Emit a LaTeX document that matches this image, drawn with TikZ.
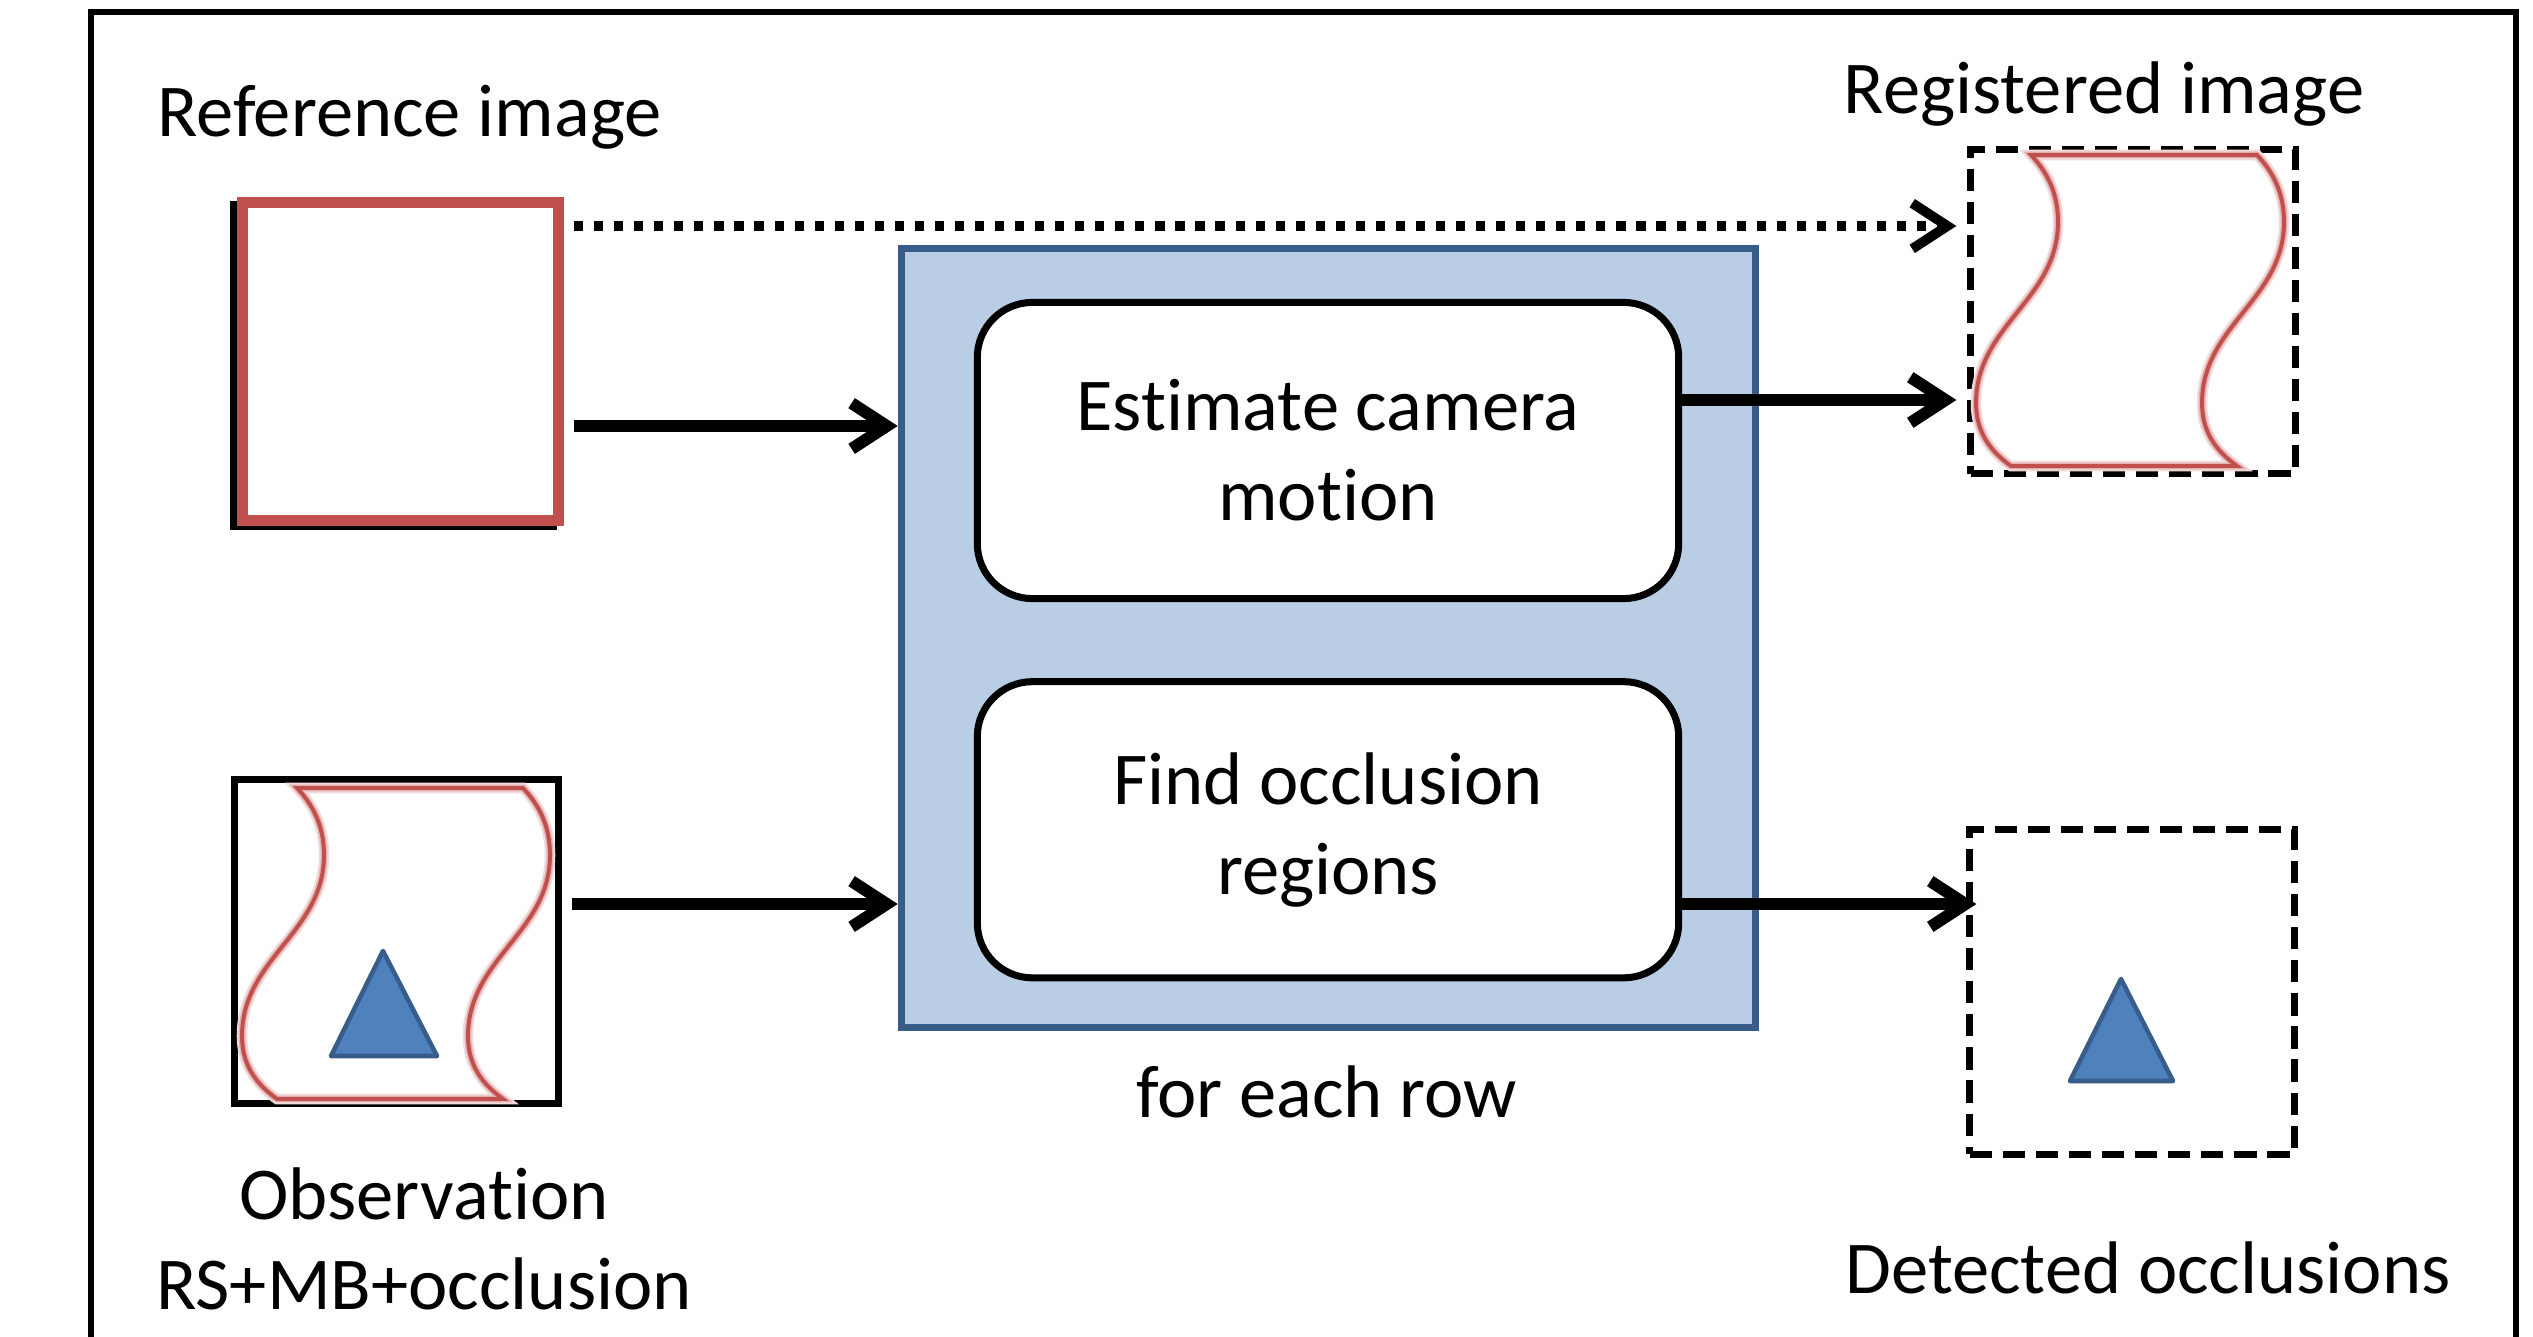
\documentclass[tikz,border=0pt]{standalone}
\usepackage{fontspec}
\setmainfont{Carlito}[Ligatures=NoCommon]
\usepackage{xcolor}
\usepackage{tikz}
\usetikzlibrary{arrows.meta, positioning, shadows}
\definecolor{refred}{HTML}{C0504D}
\definecolor{loopfill}{HTML}{B9CDE5}
\definecolor{loopdraw}{HTML}{385D8A}
\definecolor{occlfill}{HTML}{4F81BD}
\newcommand{\lblfont}{\fontsize{21.2}{25.6}\selectfont}
\tikzset{
    imgbox/.style={rectangle, minimum width=3.24cm, minimum height=3.24cm, draw=black, line width=2pt, fill=white},
    refbox/.style={imgbox, minimum width=3.16cm, minimum height=3.18cm, draw=refred, line width=3.1pt, general shadow={draw=black, fill=black, line width=3.1pt, shadow xshift=-0.07cm, shadow yshift=-0.04cm}},
    outbox/.style={imgbox, dash pattern=on 6.3pt off 3.1pt},
    loopbox/.style={rectangle, minimum width=8.54cm, minimum height=7.79cm, draw=loopdraw, fill=loopfill, line width=2pt},
    stepbox/.style={rectangle, rounded corners=0.55cm, minimum width=7.01cm, minimum height=2.96cm, text centered, align=center, draw=black, fill=white, line width=2pt, font=\lblfont},
    lbl/.style={inner sep=0pt, align=center, font=\lblfont},
    arrow/.style={line width=3.4pt, -{Straight Barb[length=10pt, width=13pt]}},
    dotarrow/.style={arrow, line width=2.8pt, dash pattern=on 2.6pt off 3.1pt},
    wave/.style={draw=refred, line width=1.1pt, preaction={draw=refred!20, line width=3pt}, preaction={draw=refred!45, line width=1.9pt}},
    occl/.style={fill=occlfill, draw=loopdraw, line width=1.3pt, line join=round},
    wavy/.pic={
        \draw[wave] (0,0) -- (226,0) .. controls (245,20) and (253,42) .. (253,67)
            .. controls (253,145) and (171,170) .. (171,248)
            .. controls (171,277) and (185,296) .. (206,311) -- (-20,311)
            .. controls (-41,296) and (-55,277) .. (-55,248)
            .. controls (-55,170) and (27,145) .. (27,67)
            .. controls (27,42) and (19,20) .. (0,0) -- cycle;
    }
}

\begin{document}
\begin{tikzpicture}[x=0.01cm, y=-0.01cm]
    \useasboundingbox (0,0) rectangle (2533,1336);
    \draw [line width=1.9pt] (91,1345) -- (91,12) -- (2516,12) -- (2516,1345);

    % per-row loop
    \node (loop) [loopbox] at (1328.5,638) {};
    \node (est) [stepbox] at (1328,450.5) {Estimate camera\\motion};
    \node (find) [stepbox, below=0.76cm of est] {Find occlusion\\regions};

    % images
    \node (ref) [refbox] at (400.5,361.5) {};
    \node (obs) [imgbox] at (396.5,941.5) {};
    \node (reg) [outbox] at (2133,311.5) {};
    \node (det) [outbox] at (2132,992) {};
    \pic at (297,788) {wavy};
    \pic at (2031,155) {wavy};
    \draw [occl] (383,951) -- (437,1056) -- (331,1056) -- cycle;
    \draw [occl] (2121,979) -- (2173,1081) -- (2070,1081) -- cycle;

    % labels
    \node (reflbl) [lbl, anchor=base] at (409.5,136) {Reference image};
    \node (reglbl) [lbl, anchor=base] at (2104,113) {Registered image};
    \node (obslbl) [lbl, anchor=north] at (424,1167) {Observation\\RS+MB+occlusion};
    \node (detlbl) [lbl, anchor=base] at (2148,1293) {Detected occlusions};
    \node (rowlbl) [lbl, anchor=base] at (1326.5,1117) {for each row};

    % connectors
    \draw [dotarrow, shorten <=0.1cm, shorten >=0.11cm] (ref.east |- 0,226) -- (reg.west |- 0,226);
    \draw [arrow, shorten <=0.1cm] (ref.east |- 0,426) -- (loop.west |- 0,426);
    \draw [arrow, shorten <=0.1cm] (obs.east |- 0,904) -- (loop.west |- 0,904);
    \draw [arrow, shorten >=0.11cm] (est.east |- 0,400) -- (reg.west |- 0,400);
    \draw [arrow, shorten >=-0.1cm] (find.east |- 0,904) -- (det.west |- 0,904);
\end{tikzpicture}
\end{document}
